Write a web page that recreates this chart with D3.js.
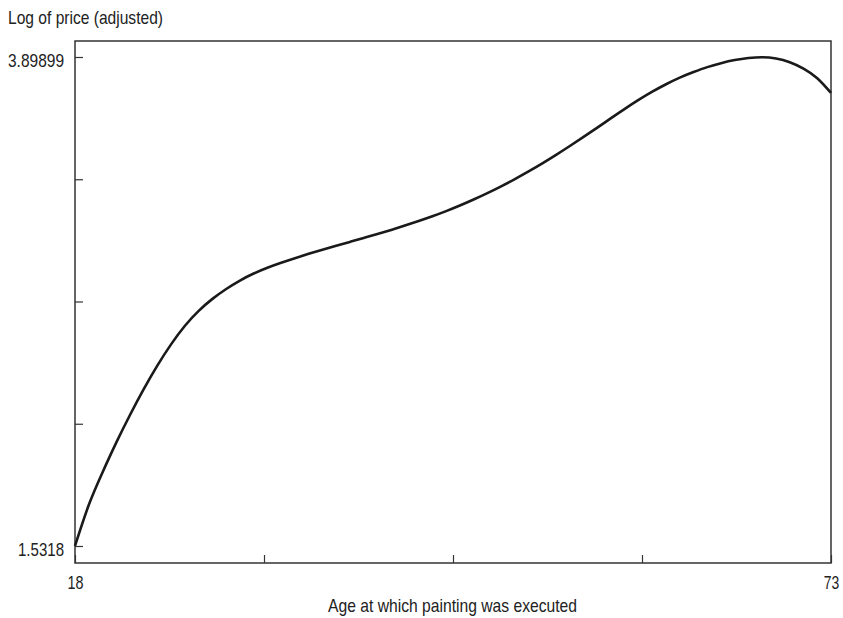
<!DOCTYPE html>
<html>
<head>
<meta charset="utf-8">
<script src="https://cdn.jsdelivr.net/npm/d3@7"></script>
<style>
  html, body { margin: 0; padding: 0; background: #fff; }
  svg text { font-family: "Liberation Sans", Arial, sans-serif; fill: #222; }
</style>
</head>
<body>
<svg id="chart" width="843" height="618"></svg>
<script>
// ---- data ----
const ages = [18,19,20,21,22,23,24,25,26,27,28,29,30,31,32,33,34,35,36,37,38,39,40,41,42,43,44,45,
              46,47,48,49,50,51,52,53,54,55,56,57,58,59,60,61,62,63,64,65,66,67,68,69,70,71,72,73];
const logPrice = [1.532,1.730,1.888,2.032,2.166,2.291,2.406,2.509,2.598,2.670,2.728,2.776,2.817,2.851,
                  2.879,2.903,2.925,2.946,2.966,2.985,3.004,3.023,3.042,3.062,3.083,3.105,3.128,3.153,
                  3.180,3.209,3.240,3.273,3.308,3.345,3.384,3.425,3.468,3.512,3.557,3.603,3.648,3.691,
                  3.731,3.767,3.799,3.826,3.850,3.869,3.884,3.894,3.898,3.892,3.874,3.843,3.796,3.725];
const xDomain = [18, 73];
const yDomain = [1.5318, 3.89899];
const xTickLabels = ["18", "", "", "", "73"];
const yTickLabels = ["1.5318", "", "", "", "3.89899"];
const xTitle = "Age at which painting was executed";
const yTitle = "Log of price (adjusted)";

// ---- layout ----
const svg = d3.select("#chart");
const frame = {left: 75, right: 831, top: 41, bottom: 563};
const x = d3.scaleLinear().domain(xDomain).range([75, 831]);
const y = d3.scaleLinear().domain(yDomain).range([546, 57]);
const FS = 19;
// condensed look: fit each label to the width it takes in the reference
const fitWidth = {"1.5318": 46, "3.89899": 56, "18": 16, "73": 15.5};

const xTicks = d3.range(5).map(i => xDomain[0] + i * (xDomain[1] - xDomain[0]) / 4);
const yTicks = d3.range(5).map(i => yDomain[0] + i * (yDomain[1] - yDomain[0]) / 4);

// frame
svg.append("rect")
  .attr("x", frame.left).attr("y", frame.top)
  .attr("width", frame.right - frame.left).attr("height", frame.bottom - frame.top)
  .attr("fill", "none").attr("stroke", "#333").attr("stroke-width", 1.5);

// y axis
const yAxis = d3.axisLeft(y)
  .tickValues(yTicks)
  .tickSizeInner(-8).tickSizeOuter(0)
  .tickPadding(11)
  .tickFormat((d, i) => yTickLabels[i]);
const gy = svg.append("g").attr("transform", `translate(${frame.left},0)`).call(yAxis);
gy.select(".domain").remove();
gy.selectAll(".tick text").attr("dy", "0.48em");

// x axis
const xAxis = d3.axisBottom(x)
  .tickValues(xTicks)
  .tickSizeInner(-8).tickSizeOuter(0)
  .tickPadding(13)
  .tickFormat((d, i) => xTickLabels[i]);
const gx = svg.append("g").attr("transform", `translate(0,${frame.bottom})`).call(xAxis);
gx.select(".domain").remove();

svg.selectAll(".tick line").attr("stroke", "#333").attr("stroke-width", 1.2);
svg.selectAll(".tick text")
  .attr("font-family", null).attr("font-size", FS).attr("fill", "#222")
  .each(function() {
    const t = d3.select(this).text();
    if (fitWidth[t]) d3.select(this).attr("textLength", fitWidth[t]).attr("lengthAdjust", "spacingAndGlyphs");
  });

// titles
svg.append("text").attr("x", 8).attr("y", 24)
  .attr("font-size", FS).attr("textLength", 155).attr("lengthAdjust", "spacingAndGlyphs")
  .text(yTitle);
svg.append("text").attr("x", 328).attr("y", 612)
  .attr("font-size", FS).attr("textLength", 249).attr("lengthAdjust", "spacingAndGlyphs")
  .text(xTitle);

// curve
const pts = ages.map((a, i) => [a, logPrice[i]]);
const line = d3.line()
  .x(d => x(d[0])).y(d => y(d[1]))
  .curve(d3.curveNatural);
svg.append("path").datum(pts)
  .attr("d", line)
  .attr("fill", "none")
  .attr("stroke", "#1a1a1a")
  .attr("stroke-width", 2.6)
  .attr("stroke-linejoin", "round");
</script>
</body>
</html>
